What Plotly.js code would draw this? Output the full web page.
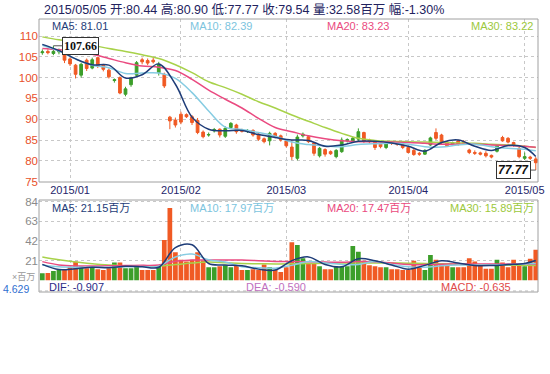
<!DOCTYPE html>
<html><head><meta charset="utf-8">
<script src="https://cdn.plot.ly/plotly-3.0.1.min.js"></script>
<style>html,body{margin:0;padding:0;background:#fff}#c{width:550px;height:374px}</style>
</head><body><div id="c"></div>
<script>
const dates = [
'2014-12-24','2014-12-26','2014-12-29','2014-12-30','2014-12-31',
'2015-01-02','2015-01-05','2015-01-06','2015-01-07','2015-01-08','2015-01-09','2015-01-12','2015-01-13','2015-01-14','2015-01-15','2015-01-16','2015-01-20','2015-01-21','2015-01-22','2015-01-23','2015-01-26','2015-01-27','2015-01-28','2015-01-29','2015-01-30',
'2015-02-02','2015-02-03','2015-02-04','2015-02-05','2015-02-06','2015-02-09','2015-02-10','2015-02-11','2015-02-12','2015-02-13','2015-02-17','2015-02-18','2015-02-19','2015-02-20','2015-02-23','2015-02-24','2015-02-25','2015-02-26','2015-02-27',
'2015-03-02','2015-03-03','2015-03-04','2015-03-05','2015-03-06','2015-03-09','2015-03-10','2015-03-11','2015-03-12','2015-03-13','2015-03-16','2015-03-17','2015-03-18','2015-03-19','2015-03-20','2015-03-23','2015-03-24','2015-03-25','2015-03-26','2015-03-27','2015-03-30','2015-03-31',
'2015-04-01','2015-04-02','2015-04-06','2015-04-07','2015-04-08','2015-04-09','2015-04-10','2015-04-13','2015-04-14','2015-04-15','2015-04-16','2015-04-17','2015-04-20','2015-04-21','2015-04-22','2015-04-23','2015-04-24','2015-04-27','2015-04-28','2015-04-29','2015-04-30',
'2015-05-01','2015-05-04','2015-05-05'];

const open  = [106.0,106.3,105.8,106.2,106.0,104.5,103.0,100.6,104.2,102.3,104.8,103.0,101.8,99.3,100.0,96.0,98.3,100.6,104.3,104.1,104.2,101.2,100.8,90.5,89.8,91.2,91.1,90.6,89.7,86.9,
86.2,87.2,87.6,85.9,88.0,88.6,87.4,87.1,87.3,86.4,85.3,84.8,86.6,86.0,84.8,83.3,80.6,86.0,85.8,84.3,81.2,82.7,82.2,81.0,82.2,84.8,84.6,85.2,86.8,85.0,
84.6,84.0,83.2,84.4,84.3,83.9,83.2,82.5,81.8,81.6,83.8,86.8,86.2,84.5,84.0,84.8,84.6,82.6,82.0,81.9,81.8,81.3,82.3,85.6,85.4,84.4,83.0,80.6,80.9,80.44];
const high  = [106.8,106.8,107.66,107.0,106.3,104.9,103.3,103.6,104.6,104.8,105.0,103.3,102.2,99.8,100.3,97.8,100.2,104.0,104.8,104.6,104.9,103.8,101.2,90.8,90.4,91.8,91.4,91.0,90.3,87.3,
86.8,87.9,87.8,88.3,89.3,88.9,87.7,87.6,87.6,86.6,85.6,87.0,86.9,86.3,85.0,85.0,86.3,86.8,86.0,84.5,83.3,83.0,82.5,82.8,85.6,85.4,85.8,87.8,87.0,85.3,
84.8,84.3,84.6,84.7,84.6,84.1,83.5,82.8,82.1,82.8,85.8,87.8,86.5,84.7,84.6,85.1,85.0,82.9,82.5,82.2,82.3,81.5,84.0,86.0,85.7,84.6,83.3,82.0,81.2,80.90];
const low   = [105.5,105.6,105.4,105.6,103.5,102.8,99.8,100.0,101.6,102.0,102.3,101.5,99.8,98.8,96.0,95.5,97.8,100.3,103.2,103.0,103.4,100.5,97.5,87.6,88.0,88.8,90.3,88.6,86.4,85.4,
85.8,86.8,85.6,85.5,87.9,86.5,86.8,86.7,85.8,84.8,84.2,83.7,85.4,84.6,83.2,80.2,80.1,85.6,84.3,81.2,80.8,81.0,81.4,80.6,81.9,84.4,84.3,84.6,84.3,84.2,
82.6,83.0,82.8,83.8,83.6,82.8,81.8,81.2,81.2,81.4,83.6,85.0,84.0,83.3,83.6,83.6,83.8,81.6,81.4,81.3,80.8,80.6,82.0,84.6,84.2,83.4,80.6,80.2,80.2,77.77];
const close = [106.2,106.0,106.3,106.6,104.2,103.3,100.8,103.2,102.2,104.3,102.8,102.0,100.2,99.5,96.3,97.3,99.8,103.6,103.8,103.5,103.8,103.2,98.0,89.6,88.6,89.3,90.6,89.2,86.8,85.8,
86.3,87.5,86.2,87.8,89.0,87.0,87.1,87.3,86.2,85.2,84.6,86.6,85.8,85.0,83.6,81.0,85.7,86.4,84.6,81.8,83.0,81.6,81.7,82.5,85.0,85.1,85.4,87.0,84.8,84.6,
83.2,83.4,84.2,84.2,84.0,83.2,82.0,81.5,81.6,82.5,85.5,85.4,84.4,83.6,84.3,84.0,84.2,82.0,81.8,81.6,81.2,80.9,83.6,84.8,84.5,83.7,81.0,81.0,80.6,79.54];
// volume, millions
const volume = [7.5,8,10,11,11,14.6,20,15,13,14,12,11,13,19,19,13,13,16,11,11,11,15,43,77,30,22,20,22,30,21,
14,14,15,16,14,16,11,11,12,11,17,14,11,9,14,40.6,37.7,23.5,18.5,18.5,15,12,12,15,15,15,36.7,30.6,21,16,
15,14,14,12,12,11,11,21,14,11,27,22,18,16,14,14,14,23.5,20,16,12.5,12.5,22,19,14,22,16,15,23,32.58];

// moving averages at these trading-day positions
const maAt = [0,3,6,9,12,15,18,21,24,27,30,33,36,39,42,45,48,51,54,57,60,63,66,69,72,75,78,81,84,87,89];
const ma5  = [108.0,106.5,104.5,103.1,103.0,99.9,100.7,103.3,98.4,90.5,87.6,87.2,87.3,86.3,85.6,85.0,84.9,83.5,83.8,84.7,84.7,84.3,83.5,82.3,84.4,85.0,83.5,82.5,83.7,83.2,81.01];
const ma10 = [107.8,106.4,104.5,103.0,102.4,101.0,101.1,101.1,99.8,96.4,92.0,88.1,87.5,86.8,85.9,84.5,83.9,83.6,83.4,83.9,84.1,84.2,84.0,83.4,83.3,83.8,84.0,83.4,83.0,82.8,82.39];
const ma20 = [107.0,106.7,106.3,105.6,104.6,103.6,102.8,102.5,101.7,99.6,97.0,94.8,92.7,90.2,88.0,87.0,86.0,85.3,84.8,84.6,84.6,84.5,84.4,84.2,84.0,84.0,84.0,83.8,83.7,83.5,83.23];
const ma30 = [109.8,109.1,108.5,107.8,107.0,106.3,105.5,104.6,103.1,101.2,99.0,97.6,96.0,94.2,92.7,91.0,89.5,88.0,86.6,85.4,84.9,84.7,84.6,84.5,84.4,84.3,84.2,84.0,83.8,83.5,83.22];
const vma5  = [17.0,11.5,12.5,14.0,13.5,15.0,14.5,14.0,35.0,38.0,18.0,16.4,15.5,12.0,11.0,21.0,25.0,17.0,14.5,23.0,21.0,16.5,12.0,16.0,21.0,18.5,15.8,15.8,16.8,18.0,21.15];
const vma10 = [16.5,14.5,14.0,14.0,14.0,14.5,14.8,15.0,25.0,28.0,22.0,19.5,14.5,13.5,13.0,16.0,20.0,18.5,17.0,17.0,20.0,17.0,14.5,14.0,15.5,16.4,16.4,16.4,16.8,17.4,17.97];
const vma20 = [20.0,16.5,15.4,15.4,15.5,15.8,16.0,16.4,20.5,21.6,21.8,21.7,21.7,21.0,20.2,20.0,19.8,19.5,19.4,20.0,19.8,18.5,16.8,16.8,17.2,17.5,17.5,17.5,17.4,17.4,17.47];
const vma30 = [25.0,22.0,19.5,17.8,16.5,15.6,15.4,15.4,16.8,18.5,19.5,18.8,18.0,17.8,17.5,17.6,18.0,18.2,18.5,18.6,18.6,18.5,18.3,18.0,17.6,17.2,16.8,16.5,16.2,16.0,15.89];

const monthTicks = ['2015-01-02','2015-02-02','2015-03-02','2015-04-01','2015-05-01'];
const monthLabels = ['2015/01','2015/02','2015/03','2015/04','2015/05'];
const priceTicks = [75,80,85,90,95,100,105,110];
const volTicks = [21,42,63,84];

const header = '2015/05/05 开:80.44 高:80.90 低:77.77 收:79.54 量:32.58百万 幅:-1.30%';
const priceLegend = ['MA5: 81.01','MA10: 82.39','MA20: 83.23','MA30: 83.22'];
const volLegend = ['MA5: 21.15百万','MA10: 17.97百万','MA20: 17.47百万','MA30: 15.89百万'];
const macdLegend = ['DIF: -0.907','DEA: -0.590','MACD: -0.635'];
const maxLabel = '107.66', minLabel = '77.77';

// ---- styling ----
const UP = '#3c9e2a', DOWN = '#f05a24';
const C5 = '#1e3c78', C10 = '#86cce2', C20 = '#ea4a80', C30 = '#a8d24a';
const FONT = 'Liberation Sans, Arial, Noto Sans CJK SC, sans-serif';
const L = 39, R = 538, T = 19, B = 292;
const px = x => (x - L) / (R - L);
const py = y => (B - y) / (B - T);

const maX = maAt.map(i => dates[i]);
const maLine = (y, c, xa, ya) => ({type:'scatter', mode:'lines', x: maX, y: y, xaxis: xa, yaxis: ya,
  line:{color:c, width:1.5, shape:'spline', smoothing:1}, hoverinfo:'skip'});

const volColors = close.map((c, i) => c >= open[i] ? UP : DOWN);

const data = [
  {type:'candlestick', x: dates, open, high, low, close, xaxis:'x', yaxis:'y',
   increasing:{line:{color:UP, width:1}, fillcolor:UP},
   decreasing:{line:{color:DOWN, width:1}, fillcolor:DOWN}, whiskerwidth:0, hoverinfo:'skip'},
  maLine(ma30, C30, 'x', 'y'), maLine(ma20, C20, 'x', 'y'), maLine(ma10, C10, 'x', 'y'),
  maLine(ma5, C5, 'x', 'y'),
  {type:'bar', x: dates, y: volume, xaxis:'x2', yaxis:'y2', marker:{color: volColors, line:{width:0}}, hoverinfo:'skip'},
  maLine(vma30, C30, 'x2', 'y2'), maLine(vma20, C20, 'x2', 'y2'), maLine(vma10, C10, 'x2', 'y2'), maLine(vma5, C5, 'x2', 'y2')
];

const gridX = {type:'category', categoryorder:'array', categoryarray: dates, range:[-0.6, 89.4],
  tickvals: monthTicks, ticktext: monthLabels, tickangle:0,
  showgrid:true, gridcolor:'#c8c8c8', griddash:'dot', gridwidth:1, zeroline:false, showline:false, ticks:'',
  fixedrange:true, rangeslider:{visible:false}};

const ann = (x, y, text, color, size, extra) => Object.assign({xref:'paper', yref:'paper', x: px(x), y: py(y),
  text, showarrow:false, xanchor:'left', yanchor:'middle', font:{family:FONT, size:size, color:color}}, extra || {});

const annotations = [
  ann(42, 10, header, '#22225e', 12.5),
  ann(50, 26, priceLegend[0], C5, 11), ann(188, 26, priceLegend[1], '#7cc4de', 11),
  ann(325, 26, priceLegend[2], C20, 11), ann(469, 26, priceLegend[3], '#9cc83c', 11),
  ann(50, 208, volLegend[0], C5, 11), ann(188, 208, volLegend[1], '#7cc4de', 11),
  ann(325, 208, volLegend[2], C20, 11), ann(448, 208, volLegend[3], '#9cc83c', 11),
  ann(47, 287, macdLegend[0], '#2c2c88', 11), ann(244, 287, macdLegend[1], '#c070c0', 11),
  ann(439, 287, macdLegend[2], '#e04848', 11),
  ann(11, 276.5, '×百万', '#999999', 9, {borderpad:0}), ann(2, 288.5, '4.629', '#2f6fd0', 10.5, {borderpad:0}),
  {xref:'x', yref:'y', x: dates[2], y: 107.66, text: '<b>'+maxLabel+'</b>', showarrow:true, arrowhead:0,
   arrowwidth:1, arrowcolor:'#555', ax:27, ay:0, bgcolor:'#fff', bordercolor:'#333', borderwidth:1, borderpad:1,
   font:{family:'Liberation Serif, serif', size:12, color:'#111'}},
  {xref:'x', yref:'y', x: dates[89], y: 77.77, text: '<b><i>'+minLabel+'</i></b>', showarrow:true, arrowhead:0,
   arrowwidth:1, arrowcolor:'#555', ax:-22, ay:0, bgcolor:'#fff', bordercolor:'#333', borderwidth:1, borderpad:1,
   font:{family:'Liberation Sans, sans-serif', size:12, color:'#111'}}
];

const shapes = [
  {type:'rect', xref:'paper', yref:'paper', x0:0, x1:1, y0:py(182), y1:1, line:{color:'#a0a0a0', width:1}},
  {type:'rect', xref:'paper', yref:'paper', x0:0, x1:1, y0:py(292), y1:py(200), line:{color:'#a0a0a0', width:1}},
  {type:'line', xref:'paper', yref:'paper', x0:0, x1:1, y0:py(291), y1:py(291), line:{color:'#b8b8b8', width:1, dash:'dot'}}
];

const layout = {
  width:550, height:374, margin:{l:39, r:12, t:19, b:82}, paper_bgcolor:'#fff', plot_bgcolor:'#fff',
  showlegend:false, boxgap:0.3, bargap:0.15, dragmode:false,
  font:{family:FONT},
  xaxis: Object.assign({}, gridX, {anchor:'y', tickfont:{family:FONT, size:11, color:'#25256a'}}),
  xaxis2: Object.assign({}, gridX, {anchor:'y2', matches:'x', showticklabels:false}),
  yaxis: {domain:[py(182), 1], range:[74.9, 114.1], tickvals: priceTicks, showgrid:true, gridcolor:'#c8c8c8',
    griddash:'dot', zeroline:false, showline:false, ticks:'', tickfont:{family:FONT, size:11.5, color:'#e8502a'}, fixedrange:true},
  yaxis2: {domain:[py(280.4), py(200)], range:[0, 85.6], tickvals: volTicks, showgrid:true, gridcolor:'#c8c8c8',
    griddash:'dot', zeroline:false, showline:false, ticks:'', tickfont:{family:FONT, size:11.5, color:'#8a8a8a'}, fixedrange:true},
  annotations, shapes
};

Plotly.newPlot('c', data, layout, {staticPlot:true, displayModeBar:false});
</script></body></html>
